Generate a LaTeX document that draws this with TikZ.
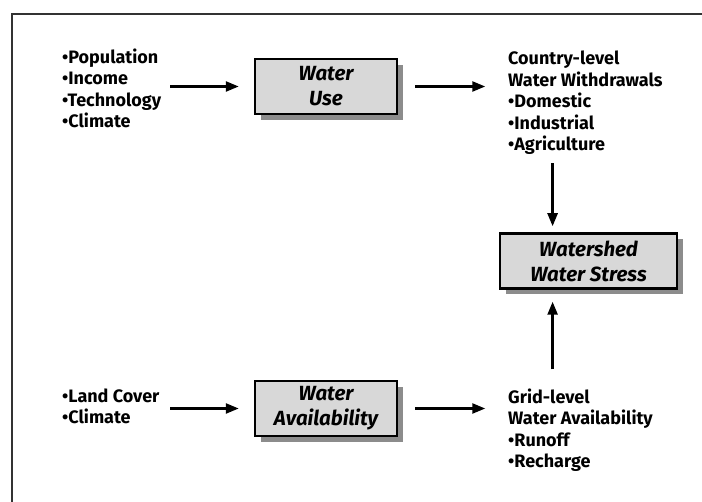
\documentclass[tikz,border=0pt]{standalone}
\usepackage{fontspec}
\setmainfont{Fira Sans}
\usetikzlibrary{arrows.meta,shadows,calc}
\definecolor{boxgray}{RGB}{216,216,216}
\definecolor{shadowgray}{RGB}{140,140,140}
\definecolor{framegray}{RGB}{50,50,50}
\begin{document}
\begin{tikzpicture}[x=1pt,y=-1pt,
  procbox/.style={draw,line width=2.5pt,fill=boxgray,align=center,inner sep=0pt,
    minimum width=142pt,minimum height=55pt,
    font=\fontsize{20.5}{25}\selectfont\bfseries\itshape,
    drop shadow={shadow xshift=6pt,shadow yshift=-6pt,fill=shadowgray,opacity=1}},
  itemlist/.style={anchor=base west,align=left,inner sep=0pt,
    font=\fontsize{18}{21.6}\selectfont\bfseries},
  flow/.style={line width=2.4pt,-{Triangle[length=13pt,width=10pt]}}]
  % 画布与外框
  \useasboundingbox (0,0) rectangle (702,502);
  \clip (0,0) rectangle (702,502);
  \fill[white] (0,0) rectangle (702,502);
  \draw[framegray,line width=2.5pt] (12,14) rectangle (740,540);

  % 三个方框
  \node[procbox] (useBox) at (326,86.5) {Water\\Use};
  \node[procbox] (availBox) at (326,408.5) {Water\\Availability};
  \node[procbox,minimum width=177pt] (stressBox) at (588.5,261) {Watershed\\Water Stress};

  % 输入与输出文字 (锚点在最后一行基线)
  \node[itemlist] (useIn) at (62,128)
    {\textbullet Population\\\textbullet Income\\\textbullet Technology\\\textbullet Climate};
  \node[itemlist] (availIn) at (62,424) {\textbullet Land Cover\\\textbullet Climate};
  \node[itemlist] (useOut) at (508,151)
    {Country-level\\Water Withdrawals\\\textbullet Domestic\\\textbullet Industrial\\\textbullet Agriculture};
  \node[itemlist] (availOut) at (508,468)
    {Grid-level\\Water Availability\\\textbullet Runoff\\\textbullet Recharge};

  % 箭头
  \coordinate (stressIn) at ($(stressBox.north west)!0.3!(stressBox.north east)$);
  \coordinate (stressUp) at ($(stressBox.south west)!0.3!(stressBox.south east)$);
  \draw[flow,shorten <=108pt,shorten >=15pt] (useBox.west -| useIn.west) -- (useBox.west);
  \draw[flow,shorten <=108pt,shorten >=15pt] (availBox.west -| availIn.west) -- (availBox.west);
  \draw[flow,shorten <=17pt] (useBox.east) -- ($(useBox.east)+(87,0)$);
  \draw[flow,shorten <=17pt] (availBox.east) -- ($(availBox.east)+(87,0)$);
  \draw[flow,shorten >=6pt] (useOut.south -| stressIn) ++(0,8) -- (stressIn);
  \draw[flow,shorten >=12pt] (availOut.north -| stressUp) ++(0,-19) -- (stressUp);
\end{tikzpicture}
\end{document}
